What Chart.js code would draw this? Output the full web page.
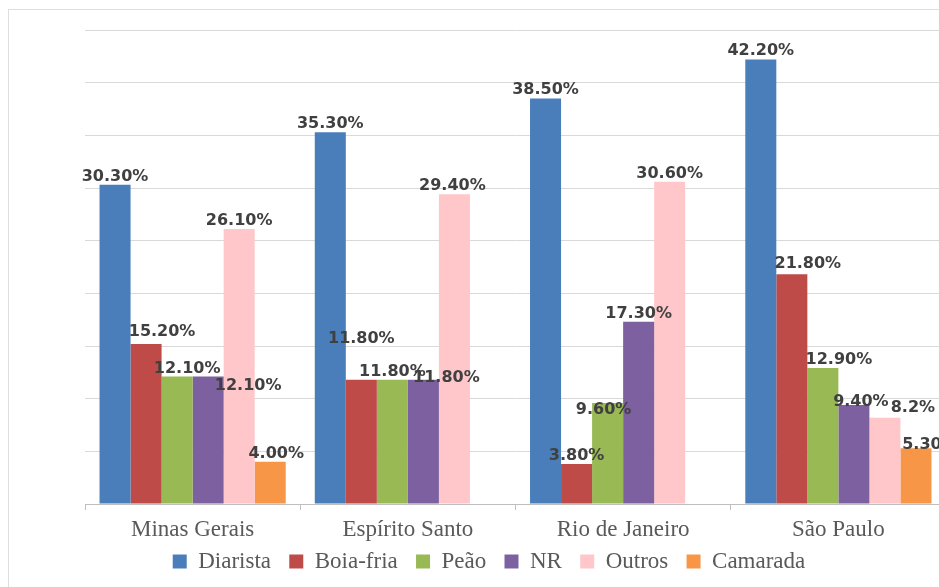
<!DOCTYPE html>
<html>
<head>
<meta charset="utf-8">
<script src="https://cdn.jsdelivr.net/npm/chart.js@4"></script>
<style>
  html, body { margin: 0; padding: 0; background: #fff; overflow: hidden; }
  #box { position: absolute; left: 8px; top: 9px; width: 960px; height: 590px;
         border-top: 1px solid #dedede; border-left: 1px solid #dedede; }
</style>
</head>
<body>
<div id="box"><canvas id="chart"></canvas></div>
<script>
  // Regions on the x axis
  const states = ['Minas Gerais', 'Espírito Santo', 'Rio de Janeiro', 'São Paulo'];
  // Share of each worker type, in percent
  const diarista = [30.3, 35.3, 38.5, 42.2];
  const boiaFria = [15.2, 11.8, 3.8, 21.8];
  const peao = [12.1, 11.8, 9.6, 12.9];
  const nr = [12.1, 11.8, 17.3, 9.4];
  const outros = [26.1, 29.4, 30.6, 8.2];
  const camarada = [4.0, null, null, 5.3];
  // Value axis, hidden but drives the gridlines
  const yMin = 0, yMax = 45, yStep = 5;

  // Label text that is not written with two decimals in the original
  const labelText = { '4-3': '8.2%' };
  // Nudges of data labels (dx, dy) by dataset-category, as placed in the original
  const labelNudge = {
    '1-0': [16, -4], '2-0': [10, 0], '3-0': [40, 17], '5-0': [6, 0],
    '1-1': [0, -33], '3-1': [23, 6], '4-1': [-2, 0],
    '2-2': [-4, 15],
    '1-3': [16, -2], '2-3': [16, 0], '3-3': [7, 5], '4-3': [28, -2], '5-3': [14, 5]
  };

  const series = [
    { label: 'Diarista', data: diarista, color: '#4a7ebb' },
    { label: 'Boia-fria', data: boiaFria, color: '#be4b48' },
    { label: 'Peão', data: peao, color: '#98b954' },
    { label: 'NR', data: nr, color: '#7d60a0' },
    { label: 'Outros', data: outros, color: '#ffc7ca' },
    { label: 'Camarada', data: camarada, color: '#f79646' }
  ];

  const dataLabels = {
    id: 'dataLabels',
    afterDatasetsDraw(chart) {
      const ctx = chart.ctx;
      ctx.save();
      ctx.font = 'bold 16px "DejaVu Sans"';
      ctx.fillStyle = '#404040';
      ctx.textAlign = 'center';
      ctx.textBaseline = 'alphabetic';
      chart.data.datasets.forEach((ds, i) => {
        chart.getDatasetMeta(i).data.forEach((bar, j) => {
          const v = ds.data[j];
          if (v === null) return;
          const key = i + '-' + j;
          const txt = labelText[key] || v.toFixed(2) + '%';
          const n = labelNudge[key] || [0, 0];
          ctx.fillText(txt, bar.x + n[0], bar.y - 4 + n[1]);
        });
      });
      ctx.restore();
    }
  };

  new Chart(document.getElementById('chart'), {
    type: 'bar',
    data: {
      labels: states,
      datasets: series.map(s => ({
        label: s.label,
        data: s.data,
        backgroundColor: s.color,
        borderWidth: 0,
        categoryPercentage: 0.865,
        barPercentage: 1
      }))
    },
    options: {
      responsive: true,
      maintainAspectRatio: false,
      animation: false,
      layout: { padding: { left: 0, right: 0, top: 20, bottom: 17 } },
      plugins: {
        tooltip: { enabled: false },
        legend: {
          position: 'bottom',
          labels: {
            boxWidth: 14,
            boxHeight: 14,
            padding: 1,
            color: '#595959',
            font: { family: '"Liberation Serif"', size: 23 },
            // trailing spaces widen the gap between legend entries
            generateLabels(chart) {
              const items = Chart.defaults.plugins.legend.labels.generateLabels(chart);
              items.forEach((l, i) => {
                if (i < items.length - 1) l.text += '\u00a0\u00a0\u00a0';
              });
              return items;
            }
          }
        }
      },
      scales: {
        x: {
          grid: { drawOnChartArea: false, drawTicks: true, tickLength: 6, color: '#bfbfbf' },
          border: { color: '#bfbfbf' },
          ticks: { color: '#595959', padding: 8, font: { family: '"Liberation Serif"', size: 23, lineHeight: 1 } }
        },
        y: {
          min: yMin, max: yMax,
          ticks: { display: false, stepSize: yStep },
          grid: { color: '#d9d9d9', drawTicks: false },
          border: { display: false },
          afterFit(scale) { scale.width = 76; }
        },
        yRight: {
          position: 'right',
          display: true,
          ticks: { display: false },
          grid: { display: false },
          border: { display: false },
          afterFit(scale) { scale.width = 23; }
        }
      }
    },
    plugins: [dataLabels]
  });
</script>
</body>
</html>
